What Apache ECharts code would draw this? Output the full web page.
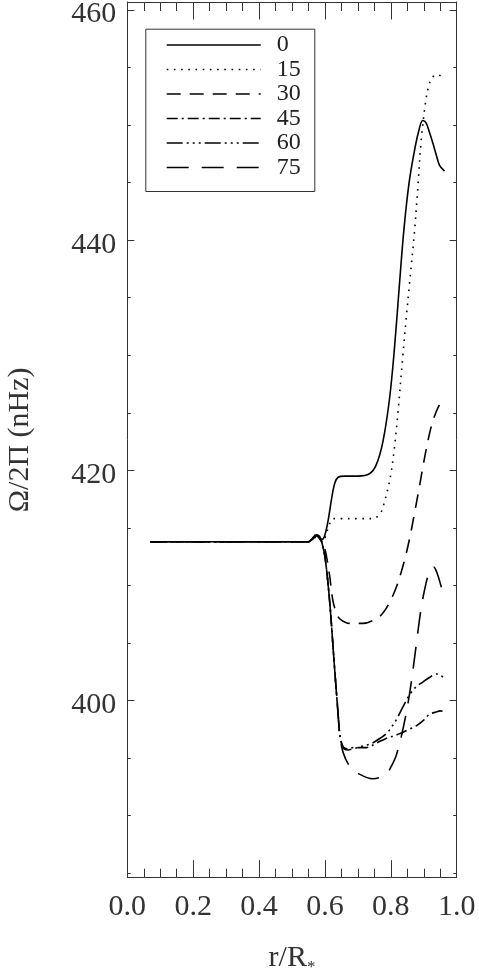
<!DOCTYPE html>
<html>
<head>
<meta charset="utf-8">
<style>
html,body{margin:0;padding:0;background:#fff;}
#chart{width:479px;height:975px;}
</style>
<script src="https://cdn.jsdelivr.net/npm/echarts@6/dist/echarts.min.js"></script>
</head>
<body>
<div id="chart"></div>
<script>
// ---- data (r/R*, Omega/2Pi in nHz) ----
const seriesNames = ['0', '15', '30', '45', '60', '75'];

const curve0 = [[0.07,413.8],[0.55,413.8],[0.565,414.1],[0.575,414.4],[0.585,414.1],[0.592,414.0],[0.60,414.4],[0.61,415.7],[0.62,417.5],[0.63,418.9],[0.64,419.4],[0.66,419.5],[0.70,419.5],[0.735,419.7],[0.756,420.5],[0.776,422.5],[0.796,426.2],[0.811,430.6],[0.826,436.1],[0.84,441.0],[0.855,444.9],[0.87,447.5],[0.884,449.4],[0.897,450.4],[0.907,450.2],[0.917,449.4],[0.928,448.4],[0.938,447.4],[0.948,446.5],[0.963,446.0]];

const curve15 = [[0.07,413.8],[0.55,413.8],[0.565,414.0],[0.575,414.3],[0.585,414.0],[0.595,413.9],[0.605,414.6],[0.615,415.4],[0.625,415.8],[0.65,415.8],[0.70,415.8],[0.745,415.8],[0.76,416.0],[0.771,416.4],[0.781,417.3],[0.791,418.4],[0.801,419.8],[0.811,422.0],[0.821,424.8],[0.836,429.8],[0.847,433.3],[0.857,436.3],[0.872,440.8],[0.882,444.6],[0.892,448.6],[0.905,451.9],[0.915,453.4],[0.925,454.1],[0.94,454.4],[0.95,454.3],[0.961,454.1]];

const curve30 = [[0.07,413.8],[0.55,413.8],[0.565,414.1],[0.575,414.3],[0.585,414.0],[0.59,413.8],[0.599,413.3],[0.614,410.9],[0.624,408.7],[0.635,407.6],[0.645,407.1],[0.675,406.7],[0.715,406.7],[0.756,407.1],[0.776,407.6],[0.796,408.5],[0.816,409.8],[0.832,411.2],[0.847,412.8],[0.86,414.5],[0.872,416.3],[0.885,418.3],[0.898,420.4],[0.91,422.2],[0.92,423.5],[0.93,424.5],[0.944,425.5],[0.955,425.9],[0.963,426.0]];

const curve45 = [[0.07,413.8],[0.55,413.8],[0.565,414.1],[0.575,414.4],[0.585,414.1],[0.59,413.8],[0.60,412.5],[0.614,408.7],[0.629,402.9],[0.64,398.8],[0.645,397.1],[0.655,396.0],[0.67,395.8],[0.685,395.9],[0.725,395.9],[0.756,396.3],[0.786,396.7],[0.826,397.1],[0.856,397.5],[0.877,397.8],[0.90,398.3],[0.917,398.8],[0.938,399.0],[0.95,399.1],[0.963,399.0]];

const curve60 = [[0.07,413.8],[0.55,413.8],[0.565,414.2],[0.575,414.5],[0.585,414.1],[0.59,413.8],[0.60,412.5],[0.614,408.7],[0.629,402.9],[0.64,398.8],[0.645,397.1],[0.655,395.9],[0.67,395.7],[0.685,395.8],[0.71,396.0],[0.735,396.2],[0.756,396.5],[0.786,397.1],[0.80,397.6],[0.816,398.3],[0.836,399.4],[0.857,400.5],[0.877,401.2],[0.897,401.6],[0.917,402.0],[0.938,402.3],[0.95,402.2],[0.963,401.9]];

const curve75 = [[0.07,413.8],[0.55,413.8],[0.565,414.2],[0.575,414.6],[0.585,414.2],[0.59,413.8],[0.60,412.5],[0.614,408.7],[0.629,402.9],[0.64,398.8],[0.645,397.1],[0.655,395.5],[0.675,394.3],[0.705,393.6],[0.745,393.2],[0.786,393.6],[0.80,394.2],[0.816,395.2],[0.836,397.4],[0.857,400.6],[0.877,404.8],[0.892,408.0],[0.907,410.2],[0.92,411.4],[0.93,411.6],[0.94,411.1],[0.95,410.2],[0.963,408.8]];

const curves = [curve0, curve15, curve30, curve45, curve60, curve75];

// axis ticks
const xMin = 0, xMax = 1, xStep = 0.2;
const yMin = 384.6, yMax = 460.7;
const yMajorTicks = [400, 420, 440, 460];
const yMinorTicks = [385, 390, 395, 405, 410, 415, 425, 430, 435, 445, 450, 455];

// ---- styles ----
const dashes = ['solid', [1.6, 5.6], [14, 9], [11, 4, 2, 4], [16, 4, 2, 4, 2, 4, 2, 4], [22, 13]];
const FONT = 'Liberation Serif';
const AX = '#333';

const chart = echarts.init(document.getElementById('chart'), null, {renderer: 'canvas'});

const G = {left: 127.3, right: 22.3, top: 2, bottom: 97.3, containLabel: false, outerBoundsMode: 'none'};

function xAxisDef(pos, showLabel) {
  return {
    type: 'value', position: pos, min: xMin, max: xMax, interval: xStep,
    axisLine: {show: true, onZero: false, lineStyle: {color: AX, width: 1}},
    axisTick: {show: true, inside: true, length: 17.5, lineStyle: {color: AX, width: 1}},
    minorTick: {show: true, splitNumber: 4, length: 9, lineStyle: {color: AX, width: 1}},
    splitLine: {show: false}, minorSplitLine: {show: false},
    axisLabel: {show: showLabel, margin: 14, fontFamily: FONT, fontSize: 30, color: AX,
      formatter: v => v.toFixed(1)},
    name: showLabel ? '{a|r/R}{s|*}' : '',
    nameLocation: 'middle', nameGap: 63,
    nameTextStyle: {fontFamily: FONT, fontSize: 30, color: AX,
      rich: {a: {fontFamily: FONT, fontSize: 30, color: AX},
             s: {fontFamily: FONT, fontSize: 17, color: AX, padding: [18, 0, 0, 0]}}}
  };
}

function yAxisDef(pos, major, showLabel) {
  const vals = major ? yMajorTicks : yMinorTicks;
  return {
    type: 'value', position: pos, min: yMin, max: yMax,
    axisLine: {show: major, onZero: false, lineStyle: {color: AX, width: 1}},
    axisTick: {show: true, inside: true, length: major ? 7 : 3.5, customValues: vals,
      lineStyle: {color: AX, width: 1}},
    splitLine: {show: false},
    axisLabel: {show: showLabel, customValues: yMajorTicks, margin: 11, fontFamily: FONT,
      fontSize: 30, color: AX, formatter: v => '{v|' + Math.round(v) + '}',
      rich: {v: {fontFamily: FONT, fontSize: 30, color: AX, padding: [9, 0, 0, 0]}}},
    name: showLabel ? 'Ω/2Π (nHz)' : '',
    nameLocation: 'middle', nameGap: 92, nameRotate: 90,
    nameTextStyle: {fontFamily: FONT, fontSize: 30, color: AX}
  };
}

// legend (drawn as graphic)
const legendX0 = 166.7, legendX1 = 260.7, legendTop = 45, legendStep = 24.5;
const legendGraphics = [{
  type: 'rect', left: 143.3, top: 26.7,
  shape: {width: 169, height: 162.3},
  style: {fill: 'none', stroke: AX, lineWidth: 1}
}];
seriesNames.forEach((n, i) => {
  const y = legendTop + legendStep * i;
  legendGraphics.push({
    type: 'line',
    shape: {x1: legendX0, y1: y, x2: legendX1, y2: y},
    style: {stroke: '#000', lineWidth: 1.6, lineDash: dashes[i] === 'solid' ? null : dashes[i]}
  });
  legendGraphics.push({
    type: 'text', x: 276.7, y: y,
    style: {text: n, fontFamily: FONT, fontSize: 24, fill: '#222', verticalAlign: 'middle', align: 'left'}
  });
});

chart.setOption({
  animation: false,
  backgroundColor: '#fff',
  grid: G,
  xAxis: [xAxisDef('bottom', true), xAxisDef('top', false)],
  yAxis: [yAxisDef('left', true, true), yAxisDef('left', false, false),
          yAxisDef('right', true, false), yAxisDef('right', false, false)],
  series: curves.map((c, i) => ({
    name: seriesNames[i], type: 'line', data: c,
    xAxisIndex: 0, yAxisIndex: 0,
    showSymbol: false, symbol: 'none', smooth: 0.35,
    lineStyle: {color: '#000', width: 1.6, type: dashes[i]}
  })),
  graphic: legendGraphics
});
</script>
</body>
</html>
